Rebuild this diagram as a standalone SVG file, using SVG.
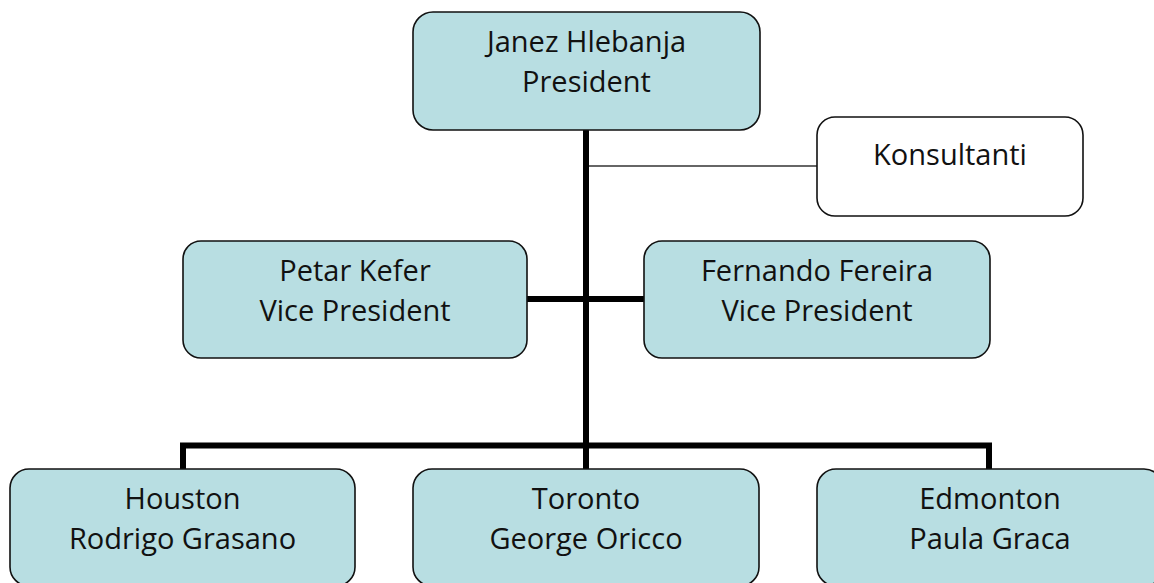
<svg xmlns="http://www.w3.org/2000/svg" width="1154" height="583" viewBox="0 0 1154 583">
  <style>
    .box { fill: #B8DEE2; stroke: #111; stroke-width: 1.6; }
    .plain { fill: #fff; stroke: #111; stroke-width: 1.6; }
    .label { font-family: "Open Sans", "Liberation Sans", sans-serif; font-size: 29px; fill: #111; text-anchor: middle; }
    .thick { fill: none; stroke: #000; stroke-width: 6; stroke-linejoin: miter; }
    .thin { fill: none; stroke: #333; stroke-width: 1.4; }
  </style>
  <rect width="1154" height="583" fill="#fff"/>

  <!-- connectors -->
  <g id="connectors">
    <path class="thick" d="M586 130 V469"/>
    <path class="thick" d="M527 299 H644"/>
    <path class="thick" d="M183 469 V445.5 H989 V469"/>
    <path class="thin" d="M589 166 H817"/>
  </g>

  <g id="president">
    <rect class="box" x="413" y="12" width="347" height="118" rx="20"/>
    <text class="label" x="586.5" y="52">Janez Hlebanja</text>
    <text class="label" x="586.5" y="92">President</text>
  </g>

  <g id="konsultanti">
    <rect class="plain" x="817" y="117" width="266" height="99" rx="18"/>
    <text class="label" x="950" y="165">Konsultanti</text>
  </g>

  <g id="vp-kefer">
    <rect class="box" x="183" y="241" width="344" height="117" rx="18"/>
    <text class="label" x="355" y="281">Petar Kefer</text>
    <text class="label" x="355" y="321">Vice President</text>
  </g>

  <g id="vp-fereira">
    <rect class="box" x="644" y="241" width="346" height="117" rx="18"/>
    <text class="label" x="817" y="281">Fernando Fereira</text>
    <text class="label" x="817" y="321">Vice President</text>
  </g>

  <g id="houston">
    <rect class="box" x="10" y="469" width="345" height="117" rx="19"/>
    <text class="label" x="182.5" y="509">Houston</text>
    <text class="label" x="182.5" y="549">Rodrigo Grasano</text>
  </g>

  <g id="toronto">
    <rect class="box" x="413" y="469" width="346" height="117" rx="19"/>
    <text class="label" x="586" y="509">Toronto</text>
    <text class="label" x="586" y="549">George Oricco</text>
  </g>

  <g id="edmonton">
    <rect class="box" x="817" y="469" width="346" height="117" rx="19"/>
    <text class="label" x="990" y="509">Edmonton</text>
    <text class="label" x="990" y="549">Paula Graca</text>
  </g>
</svg>
